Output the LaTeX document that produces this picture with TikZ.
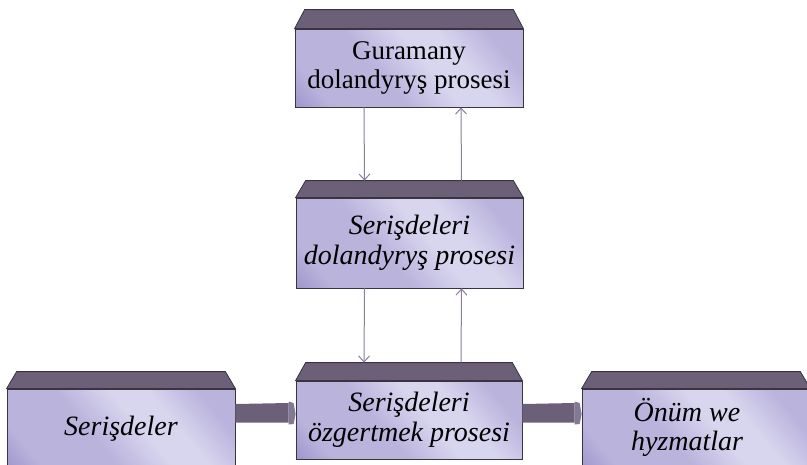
\documentclass[tikz,border=0pt]{standalone}
\usepackage{fontspec}
\setmainfont{Liberation Serif}
\usetikzlibrary{calc,arrows.meta}
\definecolor{topc}{HTML}{6B6078}
\definecolor{edgec}{HTML}{3A3340}
\definecolor{frontdark}{HTML}{9C94CA}
\definecolor{frontmid}{HTML}{BAB4DD}
\definecolor{frontlight}{HTML}{D8D5EE}
\definecolor{linec}{HTML}{8A7CA2}
\definecolor{tipc}{HTML}{847994}
\pgfdeclarehorizontalshading{boxshade}{100bp}{color(0bp)=(frontdark); color(14bp)=(frontdark); color(24bp)=(frontmid); color(42bp)=(frontmid); color(55bp)=(frontlight); color(64bp)=(frontlight); color(76bp)=(frontmid); color(84bp)=(frontmid); color(90bp)=(frontdark); color(100bp)=(frontdark)}
\tikzset{
  procbox/.style={draw=edgec, line width=0.8pt, shading=boxshade, shading angle=40, align=center, inner sep=0pt,
    font=\fontsize{27}{29}\selectfont},
  itbox/.style={procbox, font=\fontsize{28}{30}\selectfont\itshape},
  topface/.style={fill=topc, draw=edgec, line width=0.8pt},
  thinarrow/.style={draw=linec, line width=1pt, -{Straight Barb[length=6pt,width=11pt]}},
  fatarrow/.style={fill=topc},
  fattip/.style={fill=tipc}
}
\begin{document}
\begin{tikzpicture}[x=1pt,y=-1pt]
\useasboundingbox (0,0) rectangle (807,464);
% boxes
\node[procbox, minimum width=228pt, minimum height=78pt] (g) at (409,68) {Guramany\\dolandyryş prosesi};
\node[itbox, minimum width=227pt, minimum height=90pt] (s) at (409.5,243) {Serişdeleri\\dolandyryş prosesi};
\node[itbox, minimum width=226pt, minimum height=78pt] (o) at (409,420) {Serişdeleri\\özgertmek prosesi};
\node[itbox, minimum width=228pt, minimum height=80pt] (l) at (121,429) {Serişdeler};
\node[itbox, minimum width=228pt, minimum height=80pt] (r) at (696,429) {\hspace*{-18pt}\begin{tabular}{@{}c@{}}Önüm we\\[-1pt] hyzmatlar\end{tabular}};
% top faces
\foreach \n/\h in {g/19,s/17,o/18,l/17,r/17}{
  \filldraw[topface] (\n.north west) -- ([shift={(10pt,\h pt)}]\n.north west)
    -- ([shift={(-10pt,\h pt)}]\n.north east) -- (\n.north east) -- cycle;
}
\coordinate (stop) at ([yshift=17pt]s.north);
\coordinate (otop) at ([yshift=18pt]o.north);
% thin arrows
\draw[thinarrow] ([xshift=-45pt]g.south) -- ([xshift=-45pt]stop);
\draw[thinarrow] ([xshift=52pt]stop) -- ([xshift=52pt]g.south);
\draw[thinarrow] ([xshift=-45pt]s.south) -- ([xshift=-45pt]otop);
\draw[thinarrow] ([xshift=52pt]otop) -- ([xshift=52pt]s.south);
% fat arrows
\coordinate (a1) at (l.east |- 0,413);
\coordinate (a1e) at (o.west |- 0,413);
\coordinate (a2) at (o.east |- 0,413);
\coordinate (a2e) at (r.west |- 0,413);
\foreach \s/\e in {a1/a1e,a2/a2e}{
  \fill[fatarrow] ([yshift=9pt]\s) -- ([shift={(-7pt,10pt)}]\e) -- ([shift={(-7pt,-9.5pt)}]\e) -- ([yshift=-9.5pt]\s) -- cycle;
  \fill[fattip] ([shift={(-7pt,11.5pt)}]\e) -- ([shift={(-2pt,10pt)}]\e) -- ([shift={(0pt,-1pt)}]\e)
    -- ([shift={(-2pt,-11pt)}]\e) -- ([shift={(-7pt,-11.5pt)}]\e) -- cycle;
}
\end{tikzpicture}
\end{document}
